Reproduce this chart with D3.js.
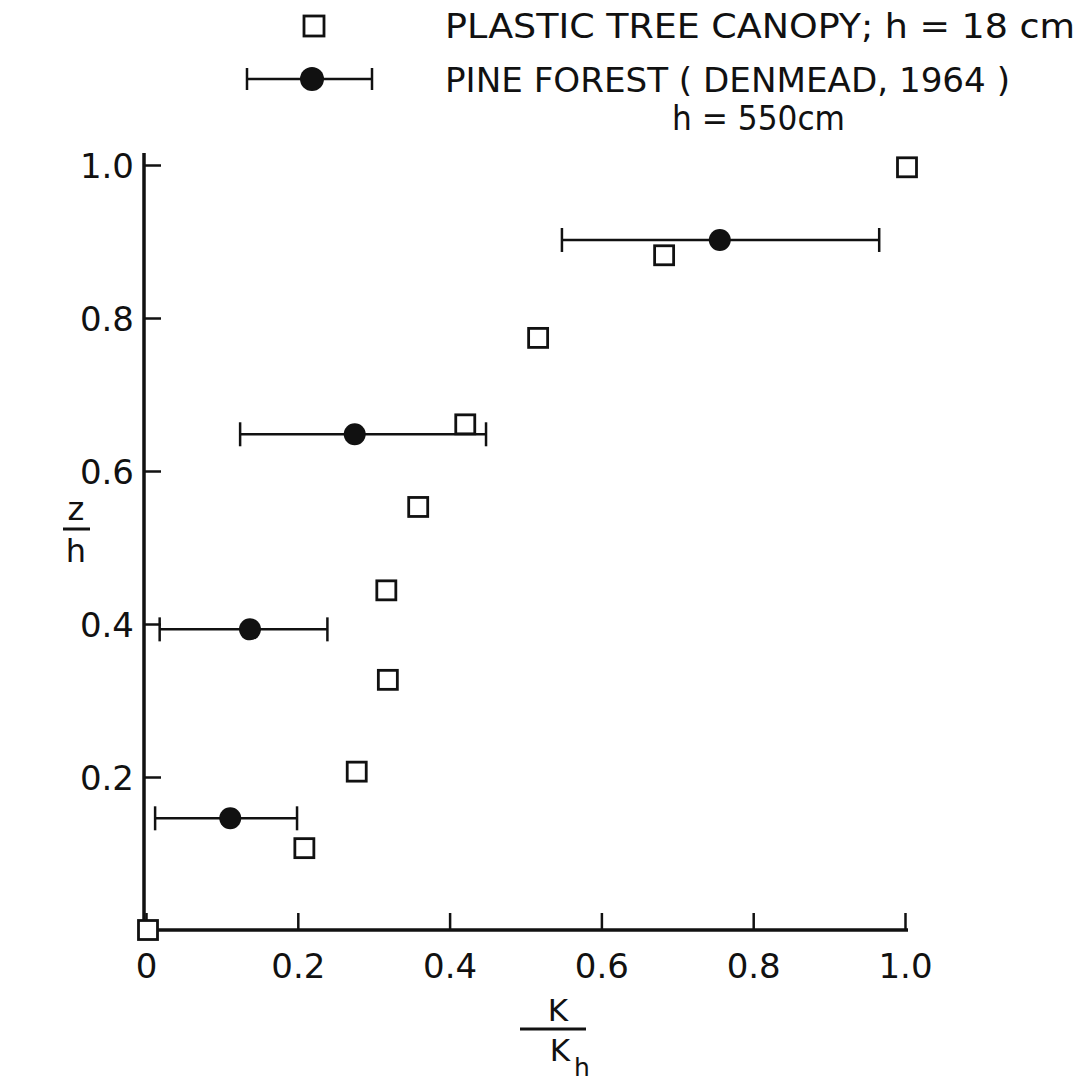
<!DOCTYPE html>
<html>
<head>
<meta charset="utf-8">
<script src="https://cdn.jsdelivr.net/npm/d3@7"></script>
<style>
  body { margin: 0; background: #fff; }
  text { fill: #111; }
</style>
</head>
<body>
<div id="chart"></div>
<script>
var width = 1090, height = 1083;

// plastic tree canopy (open squares)
var canopyK = [0.0, 0.206, 0.275, 0.316, 0.314, 0.356, 0.418, 0.514, 0.680, 1.0];
var canopyZ = [0.0, 0.107, 0.207, 0.327, 0.444, 0.553, 0.661, 0.774, 0.882, 0.997];

// pine forest, Denmead 1964 (filled circles with range bars)
var pineK  = [0.111, 0.137, 0.275, 0.756];
var pineLo = [0.012, 0.018, 0.124, 0.548];
var pineHi = [0.199, 0.239, 0.448, 0.966];
var pineZ  = [0.146, 0.393, 0.648, 0.902];

var xTicks = [0, 0.2, 0.4, 0.6, 0.8, 1.0];
var xTickLabels = ['0', '0.2', '0.4', '0.6', '0.8', '1.0'];
var yTicks = [0.2, 0.4, 0.6, 0.8, 1.0];
var yTickLabels = ['0.2', '0.4', '0.6', '0.8', '1.0'];

var x = d3.scaleLinear().domain([0, 1]).range([146, 905]);
var y = d3.scaleLinear().domain([0, 1]).range([930, 165]);

var svg = d3.select('#chart')
  .append('svg')
  .attr('width', width)
  .attr('height', height);

var ink = '#111';
var font = "'DejaVu Sans', sans-serif";
var narrow = "'DejaVu Sans Condensed', 'DejaVu Sans', sans-serif";

// axes
var xAxis = d3.axisBottom(x).tickValues(xTicks).tickSize(-17)
  .tickFormat(function(d, i) { return xTickLabels[i]; });
var yAxis = d3.axisLeft(y).tickValues(yTicks).tickSize(-17)
  .tickFormat(function(d, i) { return yTickLabels[i]; });

var gx = svg.append('g').attr('transform', 'translate(0,' + y(0) + ')').call(xAxis);
gx.select('.domain').remove();
gx.append('line')
  .attr('x1', x(0) - 2).attr('x2', x(1) + 3)
  .attr('stroke', ink).attr('stroke-width', 3.5);
gx.selectAll('.tick line').attr('stroke', ink).attr('stroke-width', 2.5);
gx.selectAll('.tick text')
  .attr('y', 0).attr('dy', 48)
  .style('font-family', font).style('font-size', '34px').attr('fill', ink);

var gy = svg.append('g').attr('transform', 'translate(' + (x(0) - 2) + ',0)').call(yAxis);
gy.select('.domain').remove();
gy.append('line')
  .attr('y1', y(0) + 2).attr('y2', 153)
  .attr('stroke', ink).attr('stroke-width', 3.5);
gy.selectAll('.tick line').attr('stroke', ink).attr('stroke-width', 2.5);
gy.selectAll('.tick text')
  .attr('x', -10).attr('dy', '0.36em')
  .style('font-family', font).style('font-size', '34px').attr('fill', ink);

// axis labels as fractions
svg.append('text').attr('x', 76).attr('y', 520).attr('text-anchor', 'middle')
  .style('font-family', font).style('font-size', '32px').text('z');
svg.append('line').attr('x1', 63).attr('x2', 90).attr('y1', 529).attr('y2', 529)
  .attr('stroke', ink).attr('stroke-width', 3);
svg.append('text').attr('x', 76).attr('y', 562).attr('text-anchor', 'middle')
  .style('font-family', font).style('font-size', '32px').text('h');

svg.append('text').attr('x', 558).attr('y', 1021).attr('text-anchor', 'middle')
  .style('font-family', font).style('font-size', '31px').text('K');
svg.append('line').attr('x1', 520).attr('x2', 586).attr('y1', 1029).attr('y2', 1029)
  .attr('stroke', ink).attr('stroke-width', 3);
svg.append('text').attr('x', 560).attr('y', 1061).attr('text-anchor', 'middle')
  .style('font-family', font).style('font-size', '31px').text('K');
svg.append('text').attr('x', 582).attr('y', 1076).attr('text-anchor', 'middle')
  .style('font-family', font).style('font-size', '25px').text('h');

// pine forest range bars
var pine = pineK.map(function(k, i) {
  return { k: k, lo: pineLo[i], hi: pineHi[i], z: pineZ[i] };
});
var capH = 12;
var bars = svg.selectAll('.bar').data(pine).enter().append('g').attr('class', 'bar');
bars.append('line')
  .attr('x1', function(d) { return x(d.lo); })
  .attr('x2', function(d) { return x(d.hi); })
  .attr('y1', function(d) { return y(d.z); })
  .attr('y2', function(d) { return y(d.z); })
  .attr('stroke', ink).attr('stroke-width', 2.5);
bars.append('line')
  .attr('x1', function(d) { return x(d.lo); })
  .attr('x2', function(d) { return x(d.lo); })
  .attr('y1', function(d) { return y(d.z) - capH; })
  .attr('y2', function(d) { return y(d.z) + capH; })
  .attr('stroke', ink).attr('stroke-width', 2.5);
bars.append('line')
  .attr('x1', function(d) { return x(d.hi); })
  .attr('x2', function(d) { return x(d.hi); })
  .attr('y1', function(d) { return y(d.z) - capH; })
  .attr('y2', function(d) { return y(d.z) + capH; })
  .attr('stroke', ink).attr('stroke-width', 2.5);

// canopy squares
var sq = 19;
svg.selectAll('.sq')
  .data(canopyK.map(function(k, i) { return { k: k, z: canopyZ[i] }; }))
  .enter().append('rect')
  .attr('x', function(d) { return x(d.k) - sq / 2 + 2; })
  .attr('y', function(d) { return y(d.z) - sq / 2; })
  .attr('width', sq).attr('height', sq)
  .attr('fill', '#fff').attr('stroke', ink).attr('stroke-width', 2.8);

bars.append('circle')
  .attr('cx', function(d) { return x(d.k); })
  .attr('cy', function(d) { return y(d.z); })
  .attr('r', 11)
  .attr('fill', ink);

// legend
svg.append('rect').attr('x', 304).attr('y', 16).attr('width', 20).attr('height', 20)
  .attr('fill', '#fff').attr('stroke', ink).attr('stroke-width', 2.8);
svg.append('line').attr('x1', 247).attr('x2', 372).attr('y1', 79).attr('y2', 79)
  .attr('stroke', ink).attr('stroke-width', 2.5);
svg.append('line').attr('x1', 247).attr('x2', 247).attr('y1', 68).attr('y2', 90)
  .attr('stroke', ink).attr('stroke-width', 2.5);
svg.append('line').attr('x1', 372).attr('x2', 372).attr('y1', 68).attr('y2', 90)
  .attr('stroke', ink).attr('stroke-width', 2.5);
svg.append('circle').attr('cx', 312).attr('cy', 79).attr('r', 12).attr('fill', ink);

svg.append('text').attr('x', 445).attr('y', 38)
  .attr('textLength', 630).attr('lengthAdjust', 'spacingAndGlyphs')
  .style('font-family', narrow).style('font-size', '33px')
  .text('PLASTIC TREE CANOPY; h = 18 cm');
svg.append('text').attr('x', 445).attr('y', 92)
  .attr('textLength', 565).attr('lengthAdjust', 'spacingAndGlyphs')
  .style('font-family', narrow).style('font-size', '33px')
  .text('PINE FOREST ( DENMEAD, 1964 )');
svg.append('text').attr('x', 672).attr('y', 130)
  .attr('textLength', 173).attr('lengthAdjust', 'spacingAndGlyphs')
  .style('font-family', narrow).style('font-size', '33px')
  .text('h = 550cm');
</script>
</body>
</html>
